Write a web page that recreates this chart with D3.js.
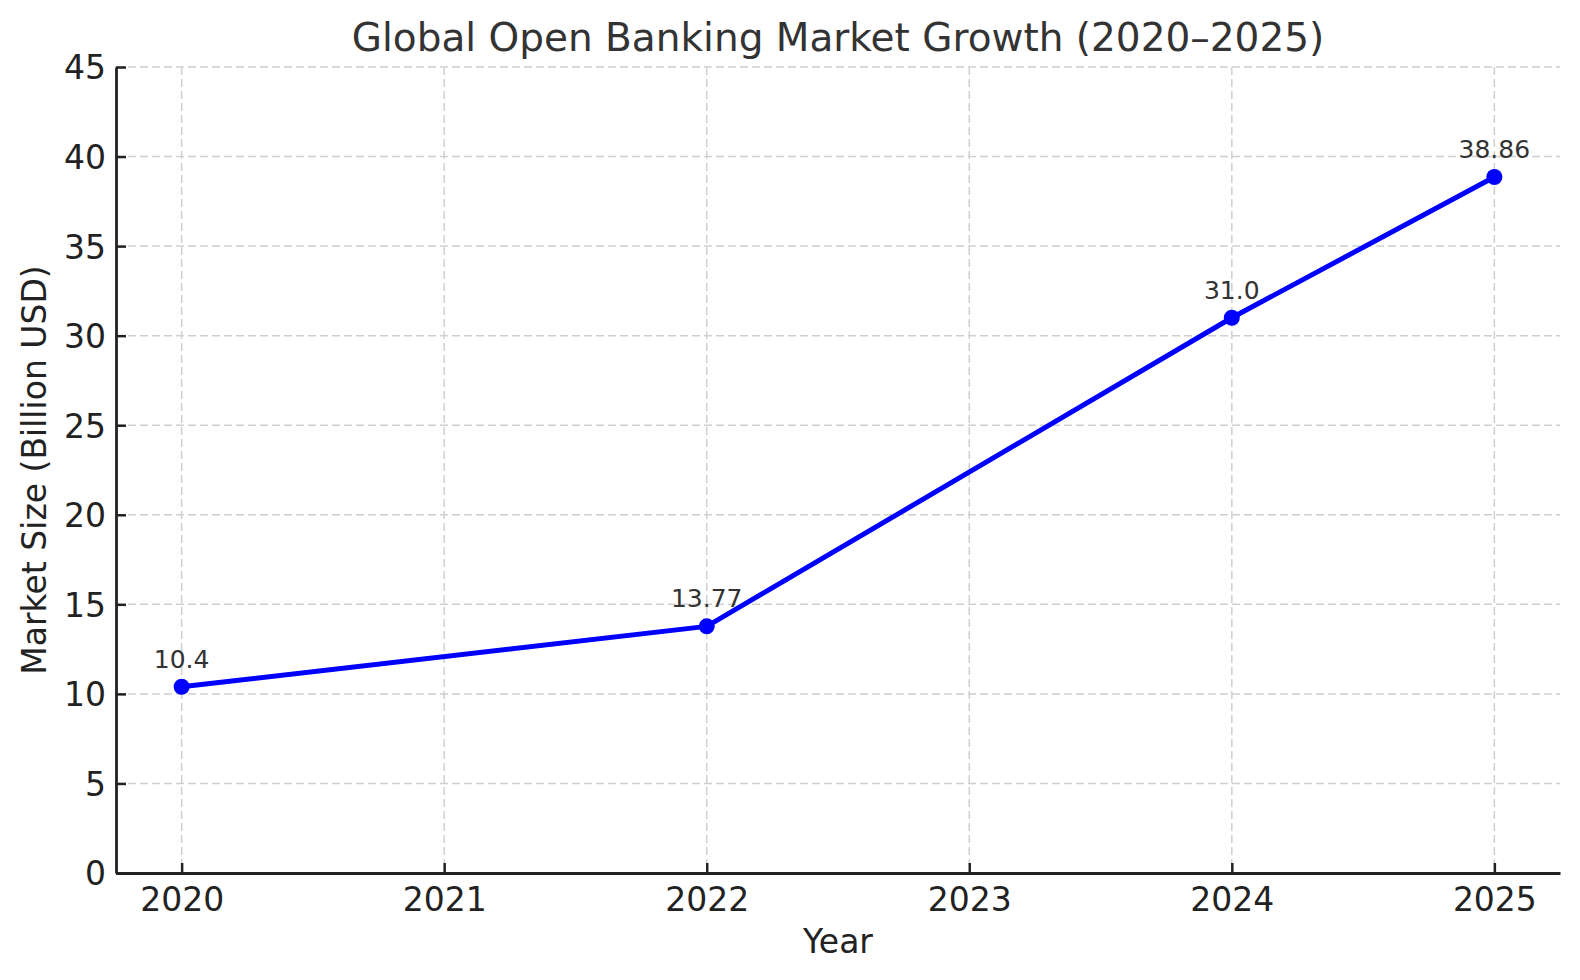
<!DOCTYPE html>
<html>
<head>
<meta charset="utf-8">
<script src="https://cdn.jsdelivr.net/npm/d3@7"></script>
<style>
  body { margin: 0; background: #fff; }
  svg { font-family: "DejaVu Sans", sans-serif; }
</style>
</head>
<body>
<div id="chart"></div>
<script>
var years = [2020, 2022, 2024, 2025];
var marketSize = [10.4, 13.77, 31.0, 38.86];
var pointLabels = ["10.4", "13.77", "31.0", "38.86"];
var xTicks = [2020, 2021, 2022, 2023, 2024, 2025];
var yTicks = [0, 5, 10, 15, 20, 25, 30, 35, 40, 45];

var width = 1580, height = 980;
var margin = { top: 67, right: 20, bottom: 107, left: 116 };
var innerW = width - margin.left - margin.right;
var innerH = height - margin.top - margin.bottom;

var svg = d3.select("#chart").append("svg")
  .attr("width", width)
  .attr("height", height);

var g = svg.append("g")
  .attr("transform", "translate(" + margin.left + "," + margin.top + ")");

var x = d3.scaleLinear().domain([2019.75, 2025.25]).range([0, innerW]);
var y = d3.scaleLinear().domain([0, 45]).range([innerH, 0]);

// grid
g.selectAll("line.hgrid").data(yTicks).enter().append("line")
  .attr("class", "hgrid")
  .attr("x1", 0).attr("x2", innerW)
  .attr("y1", function (d) { return y(d); })
  .attr("y2", function (d) { return y(d); })
  .style("stroke", "#cfcfcf").style("stroke-width", 1.5)
  .style("stroke-dasharray", "8,4");

g.selectAll("line.vgrid").data(xTicks).enter().append("line")
  .attr("class", "vgrid")
  .attr("y1", 0).attr("y2", innerH)
  .attr("x1", function (d) { return x(d); })
  .attr("x2", function (d) { return x(d); })
  .style("stroke", "#cfcfcf").style("stroke-width", 1.5)
  .style("stroke-dasharray", "8,4");

// axes
var xAxis = d3.axisBottom(x).tickValues(xTicks).tickFormat(d3.format("d"))
  .tickSizeInner(-10).tickSizeOuter(0).tickPadding(15);
var yAxis = d3.axisLeft(y).tickValues(yTicks)
  .tickSizeInner(-10).tickSizeOuter(0).tickPadding(10);

var gx = g.append("g").attr("transform", "translate(0," + innerH + ")").call(xAxis);
var gy = g.append("g").call(yAxis);

[gx, gy].forEach(function (a) {
  a.selectAll("text").style("font-size", "33px").style("fill", "#222")
    .style("font-family", "DejaVu Sans");
  a.selectAll("line").style("stroke", "#222").style("stroke-width", 2.5);
  a.select(".domain").style("stroke", "#222").style("stroke-width", 2.8);
});
gx.selectAll("text").attr("dy", "0.71em");
gy.selectAll("text").attr("dy", "0.36em");

// line
var line = d3.line()
  .x(function (d, i) { return x(years[i]); })
  .y(function (d) { return y(d); });

g.append("path")
  .datum(marketSize)
  .attr("d", line)
  .style("fill", "none")
  .style("stroke", "#0000ff")
  .style("stroke-width", 5)
  .style("stroke-linejoin", "round");

g.selectAll("circle.pt").data(marketSize).enter().append("circle")
  .attr("class", "pt")
  .attr("cx", function (d, i) { return x(years[i]); })
  .attr("cy", function (d) { return y(d); })
  .attr("r", 8)
  .style("fill", "#0000ff");

g.selectAll("text.lbl").data(marketSize).enter().append("text")
  .attr("class", "lbl")
  .attr("x", function (d, i) { return x(years[i]); })
  .attr("y", function (d) { return y(d) - 19; })
  .attr("text-anchor", "middle")
  .style("font-size", "25px")
  .style("fill", "#333")
  .text(function (d, i) { return pointLabels[i]; });

// title and labels
svg.append("text")
  .attr("x", margin.left + innerW / 2)
  .attr("y", 51)
  .attr("text-anchor", "middle")
  .style("font-size", "39px")
  .style("fill", "#333")
  .text("Global Open Banking Market Growth (2020\u20132025)");

svg.append("text")
  .attr("x", margin.left + innerW / 2)
  .attr("y", 953)
  .attr("text-anchor", "middle")
  .style("font-size", "33px")
  .style("fill", "#222")
  .text("Year");

svg.append("text")
  .attr("transform", "translate(46," + (margin.top + innerH / 2) + ") rotate(-90)")
  .attr("text-anchor", "middle")
  .style("font-size", "33px")
  .style("fill", "#222")
  .text("Market Size (Billion USD)");
</script>
</body>
</html>
